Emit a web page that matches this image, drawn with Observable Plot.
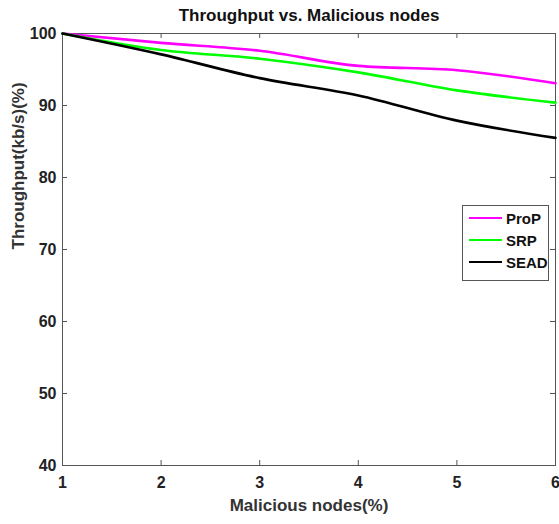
<!DOCTYPE html>
<html>
<head>
<meta charset="utf-8">
<script src="https://cdn.jsdelivr.net/npm/d3@7"></script>
<script src="https://cdn.jsdelivr.net/npm/@observablehq/plot@0.6"></script>
<style>
  body { margin: 0; background: #fff; }
  #wrap { position: relative; width: 559px; height: 524px; font-family: "Liberation Sans", Arial, sans-serif; }
  #legend { position: absolute; left: 462px; top: 205px; width: 87px; height: 76px; border: 1px solid #555; background: #fff; box-sizing: border-box; }
  #legend .row { position: absolute; left: 6px; height: 20px; display: flex; align-items: center; }
  #legend .sw { width: 33px; height: 0; border-top: 2.5px solid; margin-right: 4px; }
  #legend .lab { font-weight: bold; font-size: 15px; color: #111; }
</style>
</head>
<body>
<div id="wrap"></div>
<script>
const nodes = [1, 2, 3, 4, 5, 6];
const prop = [100, 98.7, 97.6, 95.5, 94.9, 93.1];
const srp  = [100, 97.7, 96.5, 94.6, 92.1, 90.4];
const sead = [100, 97.1, 93.8, 91.4, 87.9, 85.5];
const seriesNames = ["ProP", "SRP", "SEAD"];
const seriesColors = ["#ff00ff", "#00ff00", "#000000"];
const xTicks = [1, 2, 3, 4, 5, 6];
const yTicks = [40, 50, 60, 70, 80, 90, 100];

const series = [prop, srp, sead];
const rows = [];
series.forEach((vals, i) => vals.forEach((v, j) => rows.push({s: seriesNames[i], x: nodes[j], y: v})));

const W = 559, H = 524, mL = 62, mR = 4, mT = 33, mB = 59;
const plotW = W - mL - mR, plotH = H - mT - mB, tk = 5;
const font = "'Liberation Sans', Arial, sans-serif";
const chart = Plot.plot({
  width: W,
  height: H,
  marginLeft: mL,
  marginRight: mR,
  marginTop: mT,
  marginBottom: mB,
  style: {fontFamily: font, fontSize: "16px", fontWeight: "bold", color: "#222", background: "#fff"},
  x: {domain: [1, 6]},
  y: {domain: [40, 100]},
  color: {domain: seriesNames, range: seriesColors},
  marks: [
    Plot.frame({stroke: "#555", strokeWidth: 1}),
    Plot.axisX(xTicks, {anchor: "bottom", tickSize: 0, tickPadding: 11, label: null, fontSize: 16, fontWeight: "bold"}),
    Plot.axisY(yTicks, {anchor: "left", tickSize: 0, tickPadding: 6, label: null, fontSize: 16, fontWeight: "bold"}),
    Plot.tickX(xTicks, {x: d => d, insetTop: plotH - tk, stroke: "#555"}),
    Plot.tickX(xTicks, {x: d => d, insetBottom: plotH - tk, stroke: "#555"}),
    Plot.tickY(yTicks, {y: d => d, insetRight: plotW - tk, stroke: "#555"}),
    Plot.tickY(yTicks, {y: d => d, insetLeft: plotW - tk, stroke: "#555"}),
    Plot.line(rows, {x: "x", y: "y", z: "s", stroke: "s", strokeWidth: 2.6, curve: "monotone-x"}),
    Plot.text(["Throughput vs. Malicious nodes"], {frameAnchor: "top", lineAnchor: "middle", dy: -18, fontSize: 17, fontWeight: "bold", fill: "#111"}),
    Plot.text(["Malicious nodes(%)"], {frameAnchor: "bottom", lineAnchor: "middle", dy: 40, fontSize: 17, fontWeight: "bold", fill: "#333"}),
    Plot.text(["Throughput(kb/s)(%)"], {frameAnchor: "left", dx: -44, rotate: -90, fontSize: 17, fontWeight: "bold", fill: "#333"})
  ]
});
const wrap = document.getElementById("wrap");
wrap.appendChild(chart);

const legend = document.createElement("div");
legend.id = "legend";
seriesNames.forEach((n, i) => {
  const r = document.createElement("div");
  r.className = "row";
  r.style.top = (2 + i * 22) + "px";
  const sw = document.createElement("div");
  sw.className = "sw";
  sw.style.borderTopColor = seriesColors[i];
  const lab = document.createElement("span");
  lab.className = "lab";
  lab.textContent = n;
  r.appendChild(sw); r.appendChild(lab);
  legend.appendChild(r);
});
wrap.appendChild(legend);
</script>
</body>
</html>
